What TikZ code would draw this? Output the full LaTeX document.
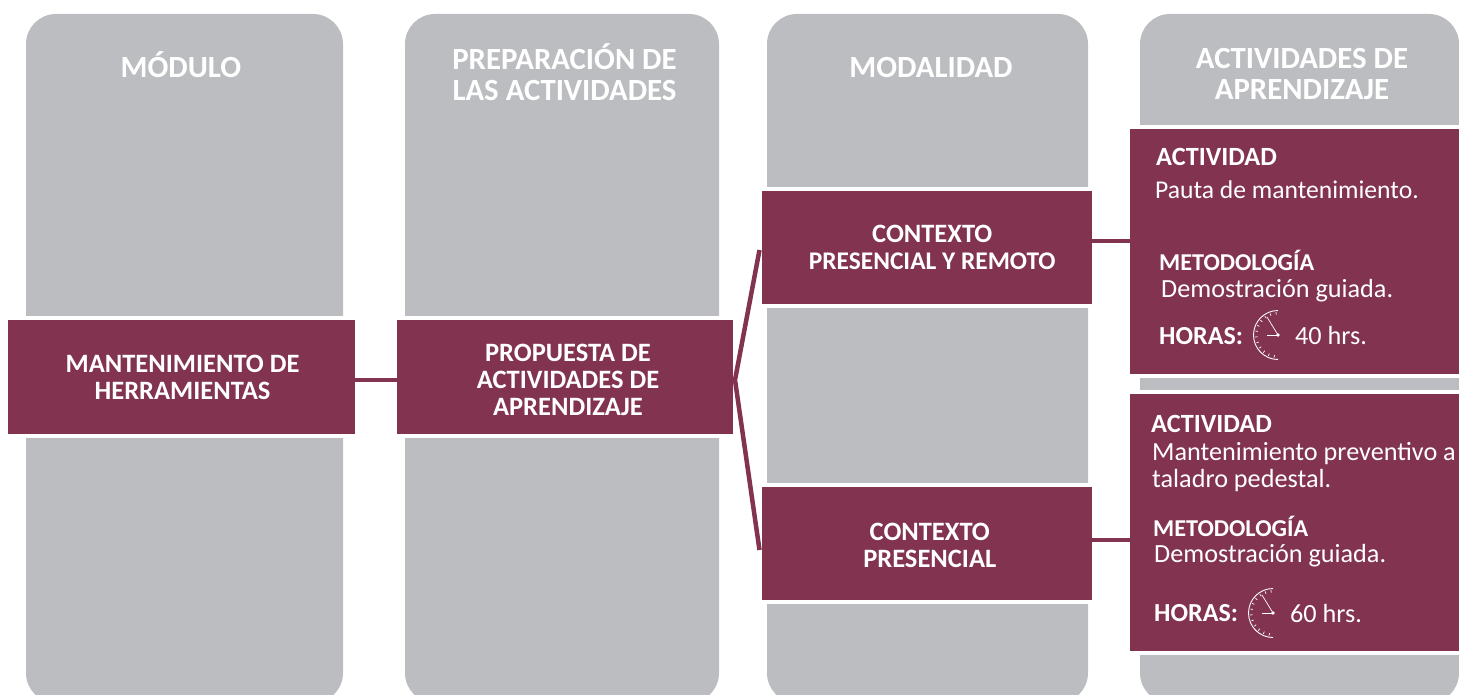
\documentclass[tikz,border=0pt]{standalone}
\usepackage{fontspec}
\setmainfont{Carlito}
\definecolor{wine}{HTML}{82334F}
\definecolor{greycol}{HTML}{BCBDC0}
\tikzset{
  x=1pt,y=-1pt,
  column/.style={fill=greycol,draw=none,rounded corners=30pt,anchor=north west,inner sep=0pt,outer sep=0pt},
  band/.style={fill=wine,draw=white,line width=4pt,anchor=north west,inner sep=0pt,outer sep=0pt,text=white,font=\fontsize{26.5}{27}\selectfont\bfseries,align=center},
  panel/.style={fill=wine,draw=white,line width=4pt,anchor=north west,inner sep=0pt,outer sep=0pt},
  head/.style={text=white,font=\fontsize{30.8}{31}\selectfont\bfseries,align=center,inner sep=0pt},
  label/.style={text=white,font=\fontsize{26.3}{27}\selectfont\bfseries,anchor=west,inner sep=0pt},
  method/.style={text=white,font=\fontsize{24.2}{27}\selectfont\bfseries,anchor=west,inner sep=0pt},
  hours/.style={text=white,font=\fontsize{26}{28}\selectfont\bfseries,anchor=west,inner sep=0pt},
  body/.style={text=white,font=\fontsize{26.2}{27}\selectfont,anchor=west,inner sep=0pt,align=left},
  link/.style={draw=wine,line width=4.5pt,shorten <=-2pt,shorten >=-2pt},
  clock/.pic={
    \begin{scope}[x=1pt,y=1pt]
    \draw[white,line width=.9pt] (0,24.5) arc[start angle=90,end angle=270,radius=24.5pt];
    \foreach \a in {95,110,...,265}{\draw[white,line width=.7pt] ({20.5*cos(\a)},{20.5*sin(\a)}) -- ({23*cos(\a)},{23*sin(\a)});}
    \draw[white,line width=.7pt] (0,0) -- (-11,0);
    \draw[white,line width=.7pt] (0,0) -- (-11,18);
    \fill[white] (0,0) circle (1.8pt);
    \end{scope}
  }
}
\begin{document}
\begin{tikzpicture}
\useasboundingbox (0,0) rectangle (1459,695);
\clip (0,0) rectangle (1459,695);
% columns
\node[column,minimum width=317pt,minimum height=689pt] (c1) at (26,14) {};
\node[column,minimum width=314pt,minimum height=689pt] (c2) at (405,14) {};
\node[column,minimum width=321pt,minimum height=689pt] (c3) at (767,14) {};
\node[column,minimum width=319pt,minimum height=689pt] (c4) at (1140,14) {};
% headers
\node[head] (h1) at (181,65) {MÓDULO};
\node[head] (h2) at (564.5,72) {PREPARACIÓN DE\\LAS ACTIVIDADES};
\node[head] (h3) at (931,68) {MODALIDAD};
\node[head] (h4) at (1302,74) {ACTIVIDADES DE\\APRENDIZAJE};
% bands
\node[band,minimum width=351pt,minimum height=118pt] (mod) at (6,318) {\hspace*{2pt}MANTENIMIENTO DE\\\hspace*{2pt}HERRAMIENTAS};
\node[band,minimum width=340pt,minimum height=118pt] (prep) at (395,318) {\hspace*{6pt}\rule{0pt}{24pt}PROPUESTA DE\\\hspace*{6pt}ACTIVIDADES DE\\\hspace*{6pt}APRENDIZAJE};
\node[band,minimum width=334.5pt,minimum height=117pt] (ctxa) at (759.5,189) {\hspace*{11pt}CONTEXTO\\\hspace*{11pt}{\fontsize{25.4}{27}\selectfont PRESENCIAL Y REMOTO}};
\node[band,minimum width=334.5pt,minimum height=117pt] (ctxb) at (759.5,485) {\hspace*{6pt}\rule{0pt}{22pt}CONTEXTO\\\hspace*{6pt}PRESENCIAL};
\node[panel,minimum width=333pt,minimum height=249pt] (acta) at (1128,127) {};
\node[panel,minimum width=333pt,minimum height=261pt] (actb) at (1128,392) {};
% connectors
\coordinate (apex) at (735,380);
\coordinate (mr) at (mod.east |- apex);
\coordinate (pl) at (prep.west |- apex);
\coordinate (aa) at (ctxa.east |- 0,241);
\coordinate (ab) at (acta.west |- aa);
\coordinate (ba) at (ctxb.east |- 0,540);
\coordinate (bb) at (actb.west |- ba);
\coordinate (fa) at (ctxa.west |- 0,250);
\coordinate (fb) at (ctxb.west |- 0,550);
\draw[link] (mr) -- (pl);
\draw[draw=wine,line width=4.5pt,line join=miter] (fa) -- (apex) -- (fb);
\draw[link] (aa) -- (ab);
\draw[link] (ba) -- (bb);
% first activity
\node[label] (a1) at (1156,157) {ACTIVIDAD};
\node[body,font=\fontsize{25.6}{27}\selectfont] (a2) at (1155,190) {Pauta de mantenimiento.};
\node[method] (a3) at (1159,260.5) {METODOLOGÍA};
\node[body] (a4) at (1161,291) {Demostración guiada.};
\node[hours] (a5) at (1159,336) {HORAS:};
\pic at (1278,335) {clock};
\node[body] (a6) at (1295,336) {40 hrs.};
% second activity
\node[label] (b1) at (1151,424) {ACTIVIDAD};
\node[body] (b2) at (1152,467.5) {Mantenimiento preventivo a\\taladro pedestal.};
\node[method] (b3) at (1153,526) {METODOLOGÍA};
\node[body] (b4) at (1154,556) {Demostración guiada.};
\node[hours] (b5) at (1154,613) {HORAS:};
\pic at (1273,613) {clock};
\node[body] (b6) at (1290,614) {60 hrs.};
\end{tikzpicture}
\end{document}
